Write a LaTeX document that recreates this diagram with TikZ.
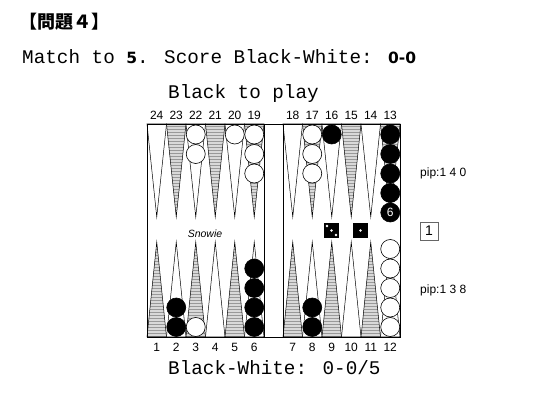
\documentclass[tikz,border=0pt]{standalone}
\usepackage{fontspec}
\usetikzlibrary{patterns}
\newfontfamily\monof{Liberation Mono}
\newfontfamily\sansf{Liberation Sans}
\newfontfamily\widef{DejaVu Sans}
\newfontfamily\cjkf{Noto Sans CJK JP}
\newcommand{\boldnum}[1]{{\widef\bfseries\fontsize{15.5}{20}\selectfont #1}}
\tikzset{whitept/.style={draw=black,line width=0.5pt,fill=white},
    shadedpt/.style={draw=black,line width=0.5pt,preaction={fill=gray!30},
        pattern=horizontal lines,pattern color=gray!80},
    whitechk/.style={circle,draw=black,fill=white,line width=0.6pt,minimum size=19pt,inner sep=0pt},
    blackchk/.style={circle,draw=black,fill=black,line width=0.6pt,minimum size=19pt,inner sep=0pt},
    ptnum/.style={font=\sansf\fontsize{12}{12}\selectfont,inner sep=0pt}}
\begin{document}
\begin{tikzpicture}[x=1pt,y=-1pt,
    mono/.style={font=\monof\fontsize{19.3}{20}\selectfont,inner sep=0pt},
    pipbox/.style={font=\sansf\fontsize{12}{12}\selectfont,inner sep=0pt},
    die/.style={fill=black,minimum size=15pt,inner sep=0pt},
    cubebox/.style={draw=black!60,fill=white,minimum size=18pt,inner sep=0pt,font=\sansf\fontsize{14}{14}\selectfont}]
    \useasboundingbox (0,0) rectangle (550,406);

    % Headings
    \node[anchor=west,inner sep=0pt,font=\cjkf\bfseries\fontsize{18}{18}\selectfont] (title) at (19,22) {【問題４】};
    \node[mono,anchor=base west] (match) at (22,64) {Match to \boldnum{5}. Score Black-White: \boldnum{0-0}};
    \node[mono,anchor=base west] (toplay) at (168,99) {Black to play};
    \node[mono,anchor=base west] (score) at (168,375) {Black-White: 0-0/5};

    % Points and their numbers
    \foreach \i in {0,...,5} {
        \foreach \hx/\tb/\bb in {147/24/1, 283/18/7} {
            \pgfmathsetmacro\xa{\hx+19.5*\i}
            \pgfmathsetmacro\xm{\xa+9.75}
            \pgfmathsetmacro\xb{\xa+19.5}
            \pgfmathtruncatemacro\tn{\tb-\i}
            \pgfmathtruncatemacro\bn{\bb+\i}
            \ifodd\i \def\topsty{shadedpt}\def\botsty{whitept}\else \def\topsty{whitept}\def\botsty{shadedpt}\fi
            \path[\topsty] (\xa,124) -- (\xm,217) -- (\xb,124) -- cycle;
            \path[\botsty] (\xa,337) -- (\xm,242) -- (\xb,337) -- cycle;
            \node[ptnum] (t\tn) at (\xm,115) {\tn};
            \node[ptnum] (b\bn) at (\xm,347.5) {\bn};
        }
    }

    % Board frame and bar
    \draw[line width=0.8pt] (147,124) rectangle (400,337);
    \draw[line width=0.8pt] (264,124) -- (264,337) (283,124) -- (283,337);

    % Checkers on the upper points
    \foreach \p/\px/\n/\c in {22/195.75/2/whitechk, 20/234.75/1/whitechk, 19/254.25/3/whitechk,
        17/312.25/3/whitechk, 16/331.75/1/blackchk, 13/390.25/5/blackchk}
        \foreach \k in {1,...,\n}
            \node[\c] (c\p-\k) at (\px,134.5+19.5*\k-19.5) {};
    \node[text=white,font=\sansf\fontsize{12}{12}\selectfont] (six) at (c13-5) {6};

    % Checkers on the lower points
    \foreach \p/\px/\n/\c in {2/176.25/2/blackchk, 3/195.75/1/whitechk, 6/254.25/4/blackchk,
        8/312.25/2/blackchk, 12/390.25/5/whitechk}
        \foreach \k in {1,...,\n}
            \node[\c] (c\p-\k) at (\px,327-19.5*\k+19.5) {};

    % Logo, dice and cube
    \node[font=\sansf\itshape\fontsize{10.5}{11}\selectfont,inner sep=0pt,anchor=base] (logo) at (205,237.5) {Snowie};
    \node[die] (d1) at (331.5,230.5) {};
    \node[die] (d2) at (360.5,230.5) {};
    \fill[white] ([shift={(-4.5,-4.5)}]d1.center) circle (1.4)
        (d1.center) circle (1.4)
        ([shift={(4.5,4.5)}]d1.center) circle (1.4)
        (d2.center) circle (1.4);
    \node[cubebox] (cube) at (429,231) {1};

    % Pip counts
    \node[pipbox,anchor=base west] (piptop) at (420,177) {pip:1 4 0};
    \node[pipbox,anchor=base west] (pipbot) at (420,294) {pip:1 3 8};
\end{tikzpicture}
\end{document}
